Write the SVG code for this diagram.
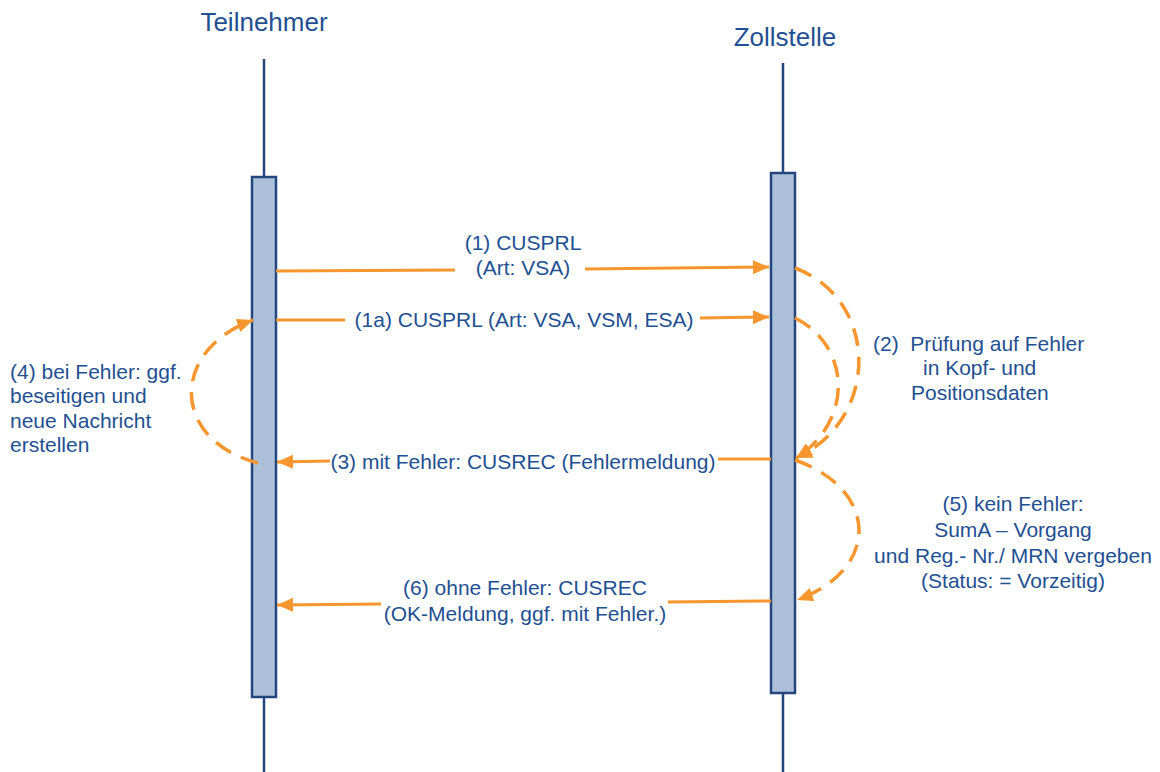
<svg xmlns="http://www.w3.org/2000/svg" width="1160" height="772" viewBox="0 0 1160 772">
<style>
  text { font-family: "Liberation Sans", Arial, sans-serif; fill: #1F5092; font-size: 21px; }
  .title { font-size: 26px; }
  .mid { text-anchor: middle; }
  .life { stroke: #24467E; stroke-width: 2.5; fill: none; }
  .bar { fill: #ADC0DA; stroke: #24467E; stroke-width: 2.5; }
  .msg { stroke: #F7962E; stroke-width: 3; fill: none; }
  .dash { stroke: #F7962E; stroke-width: 3.5; fill: none; stroke-dasharray: 18 11; stroke-linecap: butt; }
</style>
<defs>
  <marker id="ah" markerUnits="userSpaceOnUse" markerWidth="18" markerHeight="16" refX="16" refY="7" orient="auto">
    <path d="M0,0 L16,7 L0,14 Z" fill="#F7962E"/>
  </marker>
</defs>
<rect width="1160" height="772" fill="#FFFFFF"/>

<g id="teilnehmer">
  <text class="title mid" x="264" y="31">Teilnehmer</text>
  <line class="life" x1="264" y1="59" x2="264" y2="772"/>
  <rect class="bar" x="252" y="177" width="24" height="520"/>
</g>

<g id="zollstelle">
  <text class="title mid" x="785" y="46">Zollstelle</text>
  <line class="life" x1="783" y1="63" x2="783" y2="772"/>
  <rect class="bar" x="771" y="173" width="24" height="520"/>
</g>

<g id="connectors">
  <path class="msg" d="M276,271 L455,270"/>
  <path class="msg" d="M585,269 L769,267" marker-end="url(#ah)"/>
  <path class="msg" d="M276,320 L345,320"/>
  <path class="msg" d="M700,318 L769,317" marker-end="url(#ah)"/>
  <path class="msg" d="M771,459 L718,459"/>
  <path class="msg" d="M330,461 L277,462" marker-end="url(#ah)"/>
  <path class="msg" d="M771,601 L668,602"/>
  <path class="msg" d="M381,604 L277,605" marker-end="url(#ah)"/>
  <path class="dash" d="M795,268 C880,300 880,420 796,458" marker-end="url(#ah)"/>
  <path class="dash" d="M795,318 C850,345 855,420 796,458" marker-end="url(#ah)"/>
  <path class="dash" d="M795,460 C880,490 880,570 797,600" marker-end="url(#ah)"/>
  <path class="dash" d="M258,463 C170,440 170,350 253,320" marker-end="url(#ah)"/>
</g>

<g id="labels">
  <text class="mid" x="523" y="250">(1) CUSPRL</text>
  <text class="mid" x="523" y="275">(Art: VSA)</text>
  <text class="mid" x="524" y="327">(1a) CUSPRL (Art: VSA, VSM, ESA)</text>
  <text class="mid" x="523" y="469">(3) mit Fehler: CUSREC (Fehlermeldung)</text>
  <text class="mid" x="525" y="595">(6) ohne Fehler: CUSREC</text>
  <text class="mid" x="525" y="621">(OK-Meldung, ggf. mit Fehler.)</text>
  <text x="10" y="379">(4) bei Fehler: ggf.</text>
  <text x="10" y="403">beseitigen und</text>
  <text x="10" y="428">neue Nachricht</text>
  <text x="10" y="452">erstellen</text>
  <text x="873" y="351" xml:space="preserve">(2)  Prüfung auf Fehler</text>
  <text x="923" y="375">in Kopf- und</text>
  <text x="911" y="400">Positionsdaten</text>
  <text class="mid" x="1013" y="511">(5) kein Fehler:</text>
  <text class="mid" x="1013" y="537">SumA – Vorgang</text>
  <text class="mid" x="1013" y="563">und Reg.- Nr./ MRN vergeben</text>
  <text class="mid" x="1013" y="588">(Status: = Vorzeitig)</text>
</g>
</svg>
